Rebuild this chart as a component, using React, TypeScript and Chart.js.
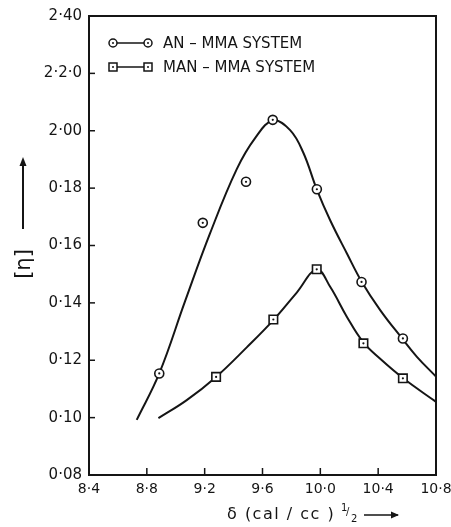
import React, { useEffect, useRef } from 'react';
import { Chart, registerables } from 'chart.js';
Chart.register(...registerables);

// Measured data points
const anX = [8.886, 9.187, 9.486, 9.671, 9.976, 10.285, 10.571];
const anY = [0.1154, 0.1679, 0.1822, 0.2038, 0.1796, 0.1473, 0.1276];
const manX = [9.279, 9.675, 9.975, 10.298, 10.571];
const manY = [0.1142, 0.1342, 0.1517, 0.1259, 0.1137];

// Hand-drawn fitted curves
const anCurveX = [8.73, 8.886, 9.064, 9.237, 9.422, 9.55, 9.673, 9.791, 9.881, 9.976, 10.068, 10.183, 10.287, 10.414, 10.564, 10.668, 10.8];
const anCurveY = [0.0992, 0.1154, 0.1405, 0.1642, 0.1866, 0.1975, 0.2036, 0.2002, 0.1925, 0.1795, 0.1688, 0.1573, 0.1473, 0.1375, 0.1277, 0.1212, 0.1143];
const manCurveX = [8.88, 9.076, 9.279, 9.491, 9.675, 9.837, 9.975, 10.068, 10.183, 10.298, 10.414, 10.571, 10.8];
const manCurveY = [0.0998, 0.1061, 0.1142, 0.1245, 0.134, 0.1436, 0.1516, 0.1456, 0.1352, 0.1262, 0.1205, 0.1138, 0.1055];

const xTickLabels = ['8·4', '8·8', '9·2', '9·6', '10·0', '10·4', '10·8'];
const yTickLabels = ['0·08', '0·10', '0·12', '0·14', '0·16', '0·18', '2·00', '2·2·0', '2·40'];
const seriesNames = ['AN – MMA SYSTEM', 'MAN – MMA SYSTEM'];

const INK = '#151515';
const FONT = '"DejaVu Sans", sans-serif';

const toPts = (xs: number[], ys: number[]) => xs.map((x, i) => ({ x, y: ys[i] }));

const decor = {
  id: 'decor',
  afterDraw(chart: any) {
    const { ctx, chartArea: a, scales } = chart;
    const xs = scales.x;
    const ys = scales.y;
    ctx.save();
    ctx.strokeStyle = INK;
    ctx.fillStyle = INK;
    ctx.lineWidth = 2;
    ctx.strokeRect(a.left, a.top, a.right - a.left, a.bottom - a.top);
    // inward ticks
    ctx.lineWidth = 1.5;
    xs.ticks.forEach((t: any) => {
      const px = xs.getPixelForValue(t.value);
      ctx.beginPath();
      ctx.moveTo(px, a.bottom);
      ctx.lineTo(px, a.bottom - 7);
      ctx.stroke();
    });
    ys.ticks.forEach((t: any) => {
      const py = ys.getPixelForValue(t.value);
      ctx.beginPath();
      ctx.moveTo(a.left, py);
      ctx.lineTo(a.left + 6, py);
      ctx.stroke();
    });

    // legend
    const rows = [a.top + 27, a.top + 51];
    ctx.font = '15px ' + FONT;
    ctx.textBaseline = 'middle';
    ctx.textAlign = 'left';
    rows.forEach((ry, i) => {
      const x1 = a.left + 24;
      const x2 = a.left + 59;
      ctx.lineWidth = 1.5;
      ctx.beginPath();
      ctx.moveTo(x1, ry);
      ctx.lineTo(x2, ry);
      ctx.stroke();
      [x1, x2].forEach((mx) => {
        ctx.beginPath();
        if (i === 0) {
          ctx.arc(mx, ry, 4, 0, Math.PI * 2);
        } else {
          ctx.rect(mx - 4, ry - 4, 8, 8);
        }
        ctx.fillStyle = '#fff';
        ctx.fill();
        ctx.stroke();
        ctx.fillStyle = INK;
        ctx.beginPath();
        ctx.arc(mx, ry, 1, 0, Math.PI * 2);
        ctx.fill();
      });
      ctx.fillText(seriesNames[i], a.left + 74, ry + 1);
    });

    // x axis title
    ctx.font = '16px ' + FONT;
    (ctx as any).letterSpacing = '1.5px';
    ctx.textBaseline = 'middle';
    ctx.fillText('δ (cal / cc )', 227, 515);
    (ctx as any).letterSpacing = '0px';
    ctx.font = '10px ' + FONT;
    ctx.fillText('1', 341, 508);
    ctx.fillText('/', 346, 512);
    ctx.fillText('2', 351, 519);
    ctx.lineWidth = 1.5;
    ctx.beginPath();
    ctx.moveTo(364, 515);
    ctx.lineTo(398, 515);
    ctx.stroke();
    ctx.beginPath();
    ctx.moveTo(399, 515);
    ctx.lineTo(391, 511.5);
    ctx.lineTo(391, 518.5);
    ctx.closePath();
    ctx.fill();

    // y axis title
    ctx.lineWidth = 2;
    ctx.beginPath();
    ctx.moveTo(23, 229);
    ctx.lineTo(23, 164);
    ctx.stroke();
    ctx.beginPath();
    ctx.moveTo(23, 157);
    ctx.lineTo(19.5, 166);
    ctx.lineTo(26.5, 166);
    ctx.closePath();
    ctx.fill();
    ctx.save();
    ctx.translate(25, 264);
    ctx.rotate(-Math.PI / 2);
    ctx.font = '21px ' + FONT;
    ctx.textAlign = 'center';
    ctx.textBaseline = 'middle';
    ctx.fillText('[η]', 0, 0);
    ctx.restore();

    ctx.restore();
  },
};

export default function App() {
  const ref = useRef<HTMLCanvasElement | null>(null);
  useEffect(() => {
    if (!ref.current) return;
    const chart = new Chart(ref.current, {
      type: 'scatter',
      data: {
        datasets: [
          {
            label: 'AN dots',
            data: toPts(anX, anY),
            pointRadius: 1.1,
            pointBackgroundColor: INK,
            pointBorderWidth: 0,
            showLine: false,
            order: 0,
          },
          {
            label: 'MAN dots',
            data: toPts(manX, manY),
            pointRadius: 1.1,
            pointBackgroundColor: INK,
            pointBorderWidth: 0,
            showLine: false,
            order: 0,
          },
          {
            label: seriesNames[0],
            data: toPts(anX, anY),
            pointStyle: 'circle',
            pointRadius: 4.5,
            pointBackgroundColor: '#fff',
            pointBorderColor: INK,
            pointBorderWidth: 1.6,
            showLine: false,
            order: 1,
          },
          {
            label: seriesNames[1],
            data: toPts(manX, manY),
            pointStyle: 'rect',
            pointRadius: 6,
            pointBackgroundColor: '#fff',
            pointBorderColor: INK,
            pointBorderWidth: 1.6,
            showLine: false,
            order: 1,
          },
          {
            label: 'AN curve',
            data: toPts(anCurveX, anCurveY),
            showLine: true,
            pointRadius: 0,
            borderColor: INK,
            borderWidth: 2,
            tension: 0.4,
            order: 2,
          },
          {
            label: 'MAN curve',
            data: toPts(manCurveX, manCurveY),
            showLine: true,
            pointRadius: 0,
            borderColor: INK,
            borderWidth: 2,
            tension: 0.4,
            order: 2,
          },
        ],
      },
      options: {
        animation: false,
        responsive: true,
        maintainAspectRatio: false,
        layout: { padding: { left: 0, right: 15, top: 16, bottom: 0 } },
        plugins: { legend: { display: false }, tooltip: { enabled: false } },
        scales: {
          x: {
            type: 'linear',
            min: 8.4,
            max: 10.8,
            grid: { display: false, drawTicks: false },
            border: { display: false },
            ticks: {
              stepSize: 0.4,
              padding: 6,
              color: INK,
              font: { family: FONT, size: 14 },
              maxRotation: 0,
              callback: (_v: any, i: number) => xTickLabels[i],
            },
            afterFit: (s: any) => {
              s.height = 52;
              s.paddingRight = 0;
              s.paddingLeft = 0;
            },
          },
          y: {
            type: 'linear',
            min: 0.08,
            max: 0.24,
            grid: { display: false, drawTicks: false },
            border: { display: false },
            ticks: {
              stepSize: 0.02,
              padding: 7,
              color: INK,
              font: { family: FONT, size: 15 },
              callback: (_v: any, i: number) => yTickLabels[i],
            },
            afterFit: (s: any) => {
              s.width = 89;
              s.paddingTop = 0;
              s.paddingBottom = 0;
            },
          },
        },
      },
      plugins: [decor],
    });
    return () => chart.destroy();
  }, []);
  return (
    <div style={{ position: 'fixed', left: 0, top: 0, width: 451, height: 527, background: '#fff' }}>
      <canvas ref={ref} />
    </div>
  );
}
